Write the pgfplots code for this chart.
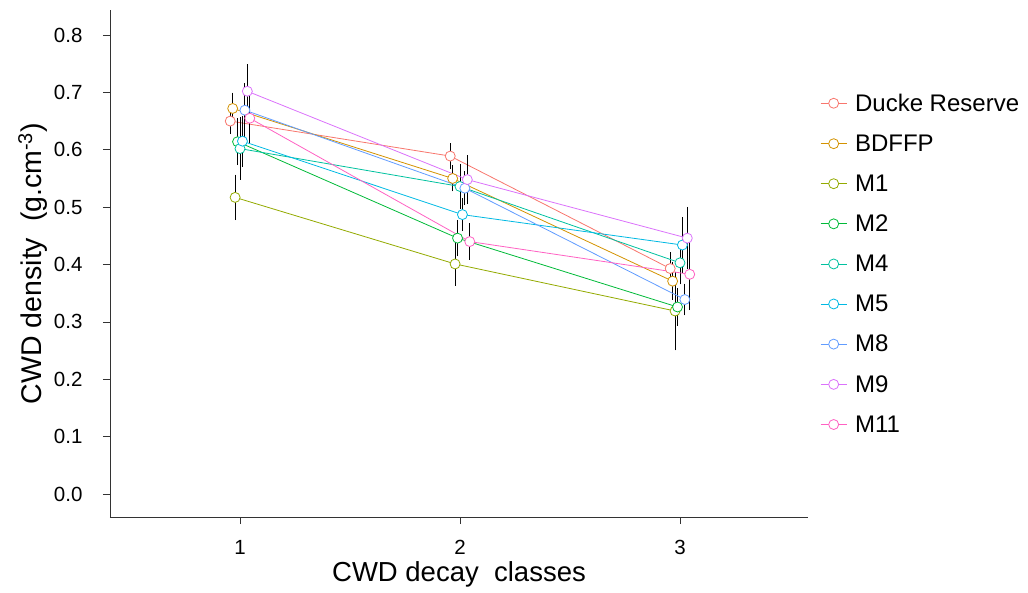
\documentclass[border=0pt]{standalone}
\usepackage{fontspec}
\setmainfont{Liberation Sans}
\usepackage{pgfplots}
\pgfplotsset{compat=1.18}

\definecolor{cDucke}{HTML}{F8766D}
\definecolor{cBDFFP}{HTML}{D39200}
\definecolor{cMa}{HTML}{93AA00}
\definecolor{cMb}{HTML}{00BA38}
\definecolor{cMd}{HTML}{00C19F}
\definecolor{cMe}{HTML}{00B9E3}
\definecolor{cMh}{HTML}{619CFF}
\definecolor{cMi}{HTML}{DB72FB}
\definecolor{cMk}{HTML}{FF61C3}

\newcommand{\tickfont}{\fontsize{20.5}{24}\selectfont}

\pgfplotsset{
  ser/.style={
    color=#1, solid, line width=0.8pt,
    mark=*, mark size=5pt,
    mark options={solid, fill=white, draw=#1, line width=0.8pt},
    error bars/.cd, y dir=both, y explicit,
    error bar style={black, solid, line width=0.8pt},
    error mark options={black, solid, mark size=1.5pt, line width=0.8pt},
  },
}

\begin{document}
\begin{tikzpicture}
\begin{axis}[
    name=main,
    anchor=south west, at={(0,0)},
    scale only axis,
    width=698pt, height=507pt,
    xmin=0.409, xmax=3.582,
    ymin=-0.040, ymax=0.8436,
    axis x line=bottom, axis y line=left,
    axis line style={-, black!80, line width=0.8pt},
    xtick={1,2,3},
    ytick={0,0.1,...,0.8},
    tick align=outside,
    major tick length=7pt,
    tick style={black!80, line width=0.8pt},
    /pgf/number format/assume math mode=true,
    xticklabel={\mbox{\tickfont\pgfmathprintnumber{\tick}}},
    yticklabel={\mbox{\tickfont\pgfmathprintnumber[fixed,fixed zerofill,precision=1]{\tick}}},
    yticklabel style={xshift=-17pt},
    xticklabel style={yshift=-13pt},
    xlabel={CWD decay\ \ classes},
    ylabel={CWD density\ \ (g.cm\textsuperscript{-3})},
    xlabel style={font=\fontsize{27.5}{30}\selectfont, yshift=0pt},
    ylabel style={font=\fontsize{28.5}{30}\selectfont, yshift=0pt},
    legend style={
      at={(1.013,0.843)}, anchor=north west,
      draw=none, fill=none,
      font=\fontsize{24}{28}\selectfont,
      row sep=18pt,
      cells={anchor=west},
      /tikz/every odd column/.append style={column sep=6pt},
    },
    legend image code/.code={
      \draw[#1, mark repeat=2, mark phase=2]
        plot coordinates {(0pt,0pt) (13pt,0pt) (26pt,0pt)};
    },
]
% Ducke Reserve
\addplot[ser=cDucke] coordinates {
  (0.9556,0.650) +- (0,0.020)
  (1.9556,0.589) +- (0,0.020)
  (2.9556,0.393) +- (0,0.026)
};
% BDFFP
\addplot[ser=cBDFFP] coordinates {
  (0.9667,0.672) +- (0,0.025)
  (1.9667,0.550) +- (0,0.020)
  (2.9667,0.371) +- (0,0.030)
};
% M1
\addplot[ser=cMa] coordinates {
  (0.9778,0.517) +- (0,0.037)
  (1.9778,0.401) +- (0,0.035)
  (2.9778,0.319) +- (0,0.066)
};
% M2
\addplot[ser=cMb] coordinates {
  (0.9889,0.614) +- (0,0.038)
  (1.9889,0.446) +- (0,0.029)
  (2.9889,0.326) +- (0,0.030)
};
% M4
\addplot[ser=cMd] coordinates {
  (1.0000,0.602) +- (0,0.052)
  (2.0000,0.536) +- (0,0.037)
  (3.0000,0.403) +- (0,0.035)
};
% M5
\addplot[ser=cMe] coordinates {
  (1.0111,0.615) +- (0,0.042)
  (2.0111,0.487) +- (0,0.026)
  (3.0111,0.434) +- (0,0.046)
};
% M8
\addplot[ser=cMh] coordinates {
  (1.0222,0.669) +- (0,0.045)
  (2.0222,0.533) +- (0,0.027)
  (3.0222,0.339) +- (0,0.025)
};
% M9
\addplot[ser=cMi] coordinates {
  (1.0333,0.702) +- (0,0.044)
  (2.0333,0.548) +- (0,0.040)
  (3.0333,0.446) +- (0,0.052)
};
% M11
\addplot[ser=cMk] coordinates {
  (1.0444,0.655) +- (0,0.041)
  (2.0444,0.440) +- (0,0.029)
  (3.0444,0.383) +- (0,0.060)
};
\legend{Ducke Reserve, BDFFP, M1, M2, M4, M5, M8, M9, M11}
\end{axis}
\pgfresetboundingbox
\path[use as bounding box] (-110pt,-75pt) rectangle (918pt,517pt);
\end{tikzpicture}
\end{document}
